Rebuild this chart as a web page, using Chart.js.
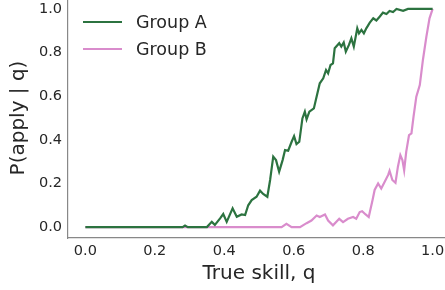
<!DOCTYPE html>
<html>
<head>
<meta charset="utf-8">
<script src="https://cdn.jsdelivr.net/npm/chart.js@4"></script>
<style>
  html, body { margin: 0; padding: 0; background: #fff; overflow: hidden; }
  #wrap { position: absolute; left: 0; top: -2px; width: 450px; height: 292px; }
</style>
</head>
<body>
<div id="wrap"><canvas id="chart"></canvas></div>
<script>
// --- DATA ---
const seriesLabels = ['Group A', 'Group B'];
const seriesColors = ['#2c7340', '#d98ccc'];

const qA = [0, 0.28, 0.287, 0.295, 0.35, 0.364, 0.373, 0.388, 0.397, 0.407, 0.424, 0.436, 0.45, 0.46,
  0.469, 0.479, 0.493, 0.503, 0.512, 0.524, 0.532, 0.541, 0.549, 0.558, 0.568, 0.575, 0.584, 0.594,
  0.601, 0.608, 0.616, 0.625, 0.632, 0.637, 0.645, 0.658, 0.666, 0.675, 0.685, 0.693, 0.699, 0.706,
  0.713, 0.718, 0.731, 0.737, 0.744, 0.75, 0.759, 0.766, 0.773, 0.783, 0.788, 0.795, 0.802, 0.809,
  0.819, 0.829, 0.838, 0.848, 0.857, 0.867, 0.876, 0.886, 0.896, 0.915, 0.929, 1.0];
const pA = [0, 0, 0.007, 0, 0, 0.024, 0.01, 0.04, 0.06, 0.024, 0.086, 0.047, 0.058, 0.055,
  0.10, 0.124, 0.139, 0.167, 0.152, 0.139, 0.216, 0.323, 0.307, 0.254, 0.307, 0.353, 0.35, 0.391,
  0.417, 0.38, 0.391, 0.498, 0.529, 0.494, 0.529, 0.544, 0.598, 0.659, 0.682, 0.72, 0.705, 0.743,
  0.75, 0.82, 0.843, 0.827, 0.846, 0.804, 0.835, 0.865, 0.827, 0.911, 0.888, 0.904, 0.888, 0.911,
  0.937, 0.957, 0.947, 0.965, 0.983, 0.977, 0.991, 0.986, 1.0, 0.991, 1.0, 1.0];

const qB = [0, 0.565, 0.579, 0.594, 0.618, 0.637, 0.651, 0.666, 0.675, 0.69, 0.699, 0.713, 0.731,
  0.742, 0.756, 0.771, 0.78, 0.79, 0.797, 0.807, 0.816, 0.827, 0.833, 0.843, 0.852, 0.862, 0.872,
  0.876, 0.884, 0.893, 0.9, 0.907, 0.913, 0.918, 0.924, 0.932, 0.939, 0.945, 0.953, 0.963, 0.972,
  0.982, 0.991, 1.0];
const pB = [0, 0, 0.015, 0, 0, 0.018, 0.03, 0.053, 0.046, 0.058, 0.03, 0.008, 0.038,
  0.023, 0.038, 0.046, 0.038, 0.069, 0.073, 0.058, 0.046, 0.124, 0.17, 0.2, 0.177, 0.208, 0.239,
  0.258, 0.216, 0.203, 0.277, 0.33, 0.307, 0.26, 0.346, 0.422, 0.43, 0.506, 0.598, 0.651, 0.766,
  0.873, 0.957, 1.0];

const xTicks = [0, 0.2, 0.4, 0.6, 0.8, 1.0];
const yTicks = [0, 0.2, 0.4, 0.6, 0.8, 1.0];

// --- STYLE ---
const FONT = 'DejaVu Sans';
const TEXT_COLOR = '#262626';
const SPINE_COLOR = '#888888';

// legend drawn inside the plot, matplotlib style (line handle + label)
const innerLegend = {
    id: 'innerLegend',
    afterDraw(chart) {
        const ctx = chart.ctx;
        const area = chart.chartArea;
        ctx.save();
        ctx.font = `17.5px "${FONT}"`;
        ctx.textBaseline = 'middle';
        chart.data.datasets.forEach((ds, i) => {
            const y = area.top + 24 + i * 27;
            const x0 = area.left + 15;
            ctx.strokeStyle = ds.borderColor;
            ctx.lineWidth = 2;
            ctx.beginPath();
            ctx.moveTo(x0, y);
            ctx.lineTo(x0 + 39, y);
            ctx.stroke();
            ctx.fillStyle = TEXT_COLOR;
            ctx.fillText(ds.label, x0 + 53, y + 1);
        });
        ctx.restore();
    }
};

const datasets = [[qA, pA], [qB, pB]].map(([qs, ps], i) => ({
    label: seriesLabels[i],
    data: qs.map((q, j) => ({ x: q, y: ps[j] })),
    borderColor: seriesColors[i],
    backgroundColor: seriesColors[i],
    borderWidth: 2.2,
    pointRadius: 0,
    tension: 0,
    fill: false
}));

new Chart(document.getElementById('chart'), {
    type: 'line',
    data: { datasets },
    options: {
        responsive: true,
        maintainAspectRatio: false,
        animation: false,
        layout: { padding: 0 },
        plugins: { legend: { display: false }, tooltip: { enabled: false } },
        scales: {
            x: {
                type: 'linear',
                min: -0.05,
                max: 1.05,
                afterBuildTicks: s => { s.ticks = xTicks.map(v => ({ value: v })); },
                afterFit: s => { s.height = 52; s.paddingLeft = 0; s.paddingRight = 0; },
                grid: { display: false, drawTicks: false },
                border: { display: true, color: SPINE_COLOR, width: 1.2 },
                ticks: {
                    padding: 5,
                    color: TEXT_COLOR,
                    font: { family: FONT, size: 14.5 },
                    callback: v => v.toFixed(1)
                },
                title: {
                    display: true,
                    text: 'True skill, q',
                    color: TEXT_COLOR,
                    font: { family: FONT, size: 20, lineHeight: 1.2 },
                    padding: { top: 0, bottom: 4 }
                }
            },
            y: {
                type: 'linear',
                min: -0.05,
                max: 1.05,
                afterBuildTicks: s => { s.ticks = yTicks.map(v => ({ value: v })); },
                afterFit: s => { s.width = 68; s.paddingTop = 0; s.paddingBottom = 0; },
                grid: { display: false, drawTicks: false },
                border: { display: true, color: SPINE_COLOR, width: 1.2 },
                ticks: {
                    padding: 6,
                    color: TEXT_COLOR,
                    font: { family: FONT, size: 14.5 },
                    callback: v => v.toFixed(1)
                },
                title: {
                    display: true,
                    text: 'P(apply | q)',
                    color: TEXT_COLOR,
                    font: { family: FONT, size: 20, lineHeight: 1.2 },
                    padding: { top: 7, bottom: 0 }
                }
            }
        }
    },
    plugins: [innerLegend]
});
</script>
</body>
</html>
